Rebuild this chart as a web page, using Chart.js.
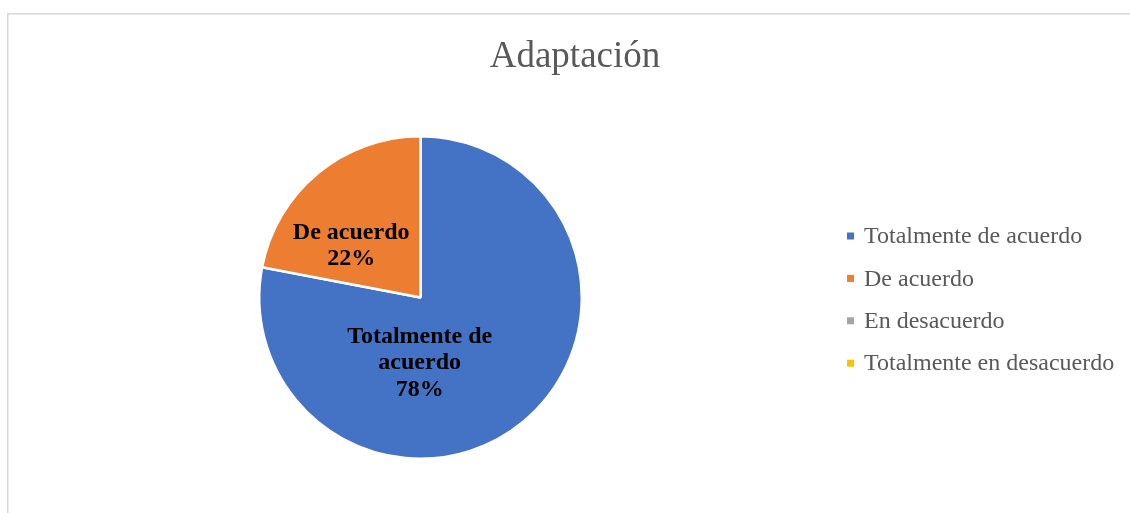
<!DOCTYPE html>
<html>
<head>
<meta charset="utf-8">
<script src="https://cdn.jsdelivr.net/npm/chart.js@4/dist/chart.umd.min.js"></script>
<style>
  html, body { margin: 0; padding: 0; background: #fff; }
  #wrap { width: 1130px; height: 513px; }
</style>
</head>
<body>
<div id="wrap"><canvas id="pieChart" width="1130" height="513"></canvas></div>
<script>
const chartTitle = 'Adaptación';
const categories = ['Totalmente de acuerdo', 'De acuerdo', 'En desacuerdo', 'Totalmente en desacuerdo'];
const percentages = [78, 22, 0, 0];
const sliceColors = ['#4472C4', '#ED7D31', '#A5A5A5', '#FFC000'];

// label text lines and placement (fraction of radius from pie centre)
const labelLines = [['Totalmente de', 'acuerdo'], ['De acuerdo'], ['En desacuerdo'], ['Totalmente en desacuerdo']];
const labelOffsets = [[-0.005, 0.405], [-0.43, -0.32], [0, 0], [0, 0]];

const serif = '"Liberation Serif", "Times New Roman", serif';
const textGrey = '#595959';

const decorPlugin = {
    id: 'decor',
    beforeDraw: (chart) => {
        const { ctx } = chart;
        // frame of the chart object
        ctx.save();
        ctx.strokeStyle = '#d9d9d9';
        ctx.lineWidth = 1.5;
        ctx.beginPath();
        ctx.moveTo(7.75, 520);
        ctx.lineTo(7.75, 13.75);
        ctx.lineTo(1140, 13.75);
        ctx.stroke();

        // title
        ctx.fillStyle = textGrey;
        ctx.font = '37px ' + serif;
        ctx.textAlign = 'center';
        ctx.textBaseline = 'middle';
        ctx.fillText(chartTitle, 575, 57);
        ctx.restore();
    },
    afterDatasetsDraw: (chart) => {
        const { ctx } = chart;
        const meta = chart.getDatasetMeta(0);
        ctx.save();
        ctx.textAlign = 'center';
        ctx.textBaseline = 'middle';
        ctx.font = 'bold 24px ' + serif;
        ctx.fillStyle = '#000';
        meta.data.forEach((arc, i) => {
            const v = percentages[i];
            if (!v) return;
            const r = arc.outerRadius;
            const cx = arc.x + labelOffsets[i][0] * r;
            const cy = arc.y + labelOffsets[i][1] * r;
            const lines = labelLines[i].concat([v + '%']);
            const lh = 26.5;
            const y0 = cy - (lines.length - 1) * lh / 2;
            lines.forEach((t, k) => ctx.fillText(t, cx, y0 + k * lh));
        });

        // legend
        ctx.font = '24px ' + serif;
        ctx.textAlign = 'left';
        const lx = 847, ly = 236, step = 42.4;
        categories.forEach((c, i) => {
            const y = ly + i * step;
            ctx.fillStyle = sliceColors[i];
            ctx.fillRect(lx, y - 3.5, 7, 7);
            ctx.fillStyle = textGrey;
            ctx.fillText(c, lx + 17, y + 1);
        });
        ctx.restore();
    }
};

new Chart(document.getElementById('pieChart').getContext('2d'), {
    type: 'pie',
    plugins: [decorPlugin],
    data: {
        labels: categories,
        datasets: [{
            data: percentages,
            backgroundColor: sliceColors,
            borderColor: '#ffffff',
            borderWidth: 2.5
        }]
    },
    options: {
        responsive: false,
        animation: false,
        layout: { padding: { left: 258, right: 547, top: 135, bottom: 53 } },
        plugins: {
            legend: { display: false },
            title: { display: false },
            tooltip: { enabled: false }
        }
    }
});
</script>
</body>
</html>
